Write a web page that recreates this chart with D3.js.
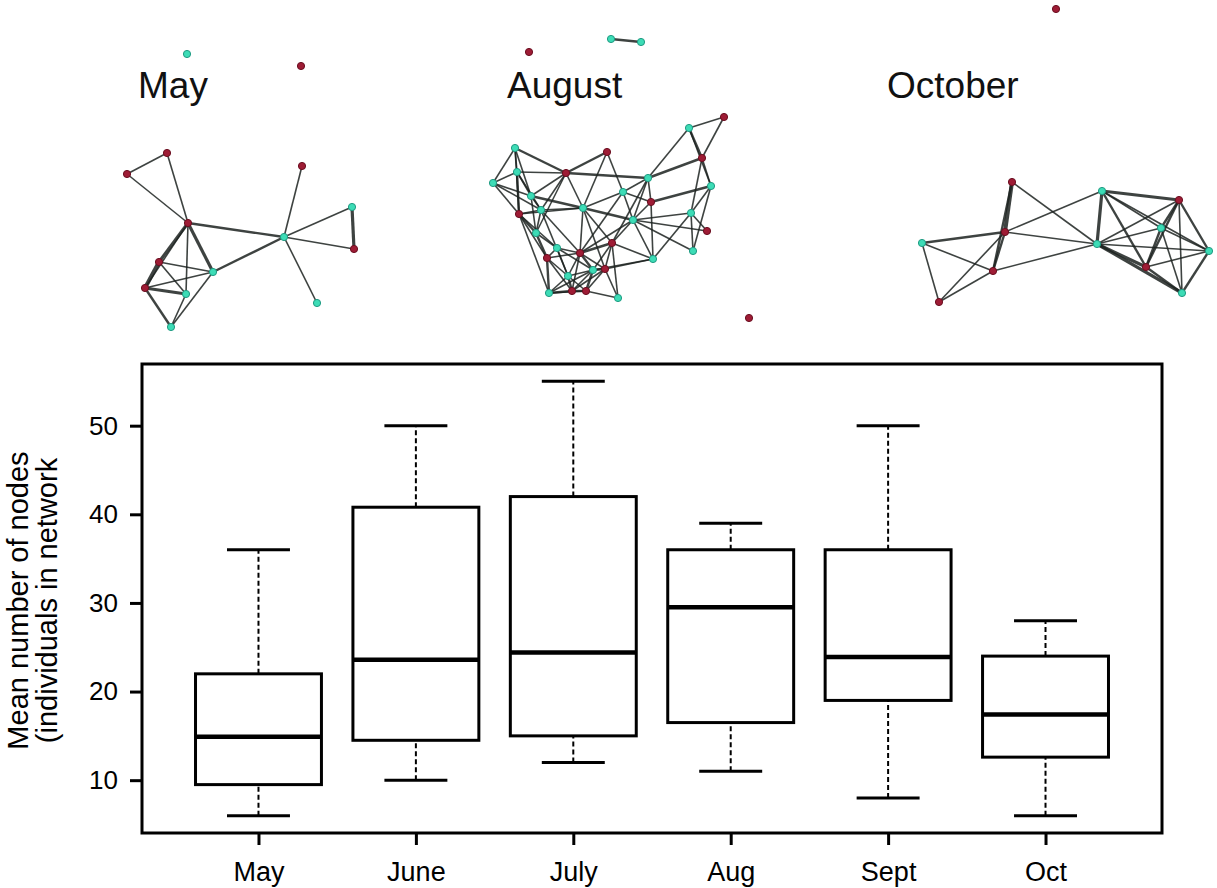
<!DOCTYPE html>
<html>
<head>
<meta charset="utf-8">
<script src="https://cdn.jsdelivr.net/npm/d3@7"></script>
<style>
  body { margin: 0; background: #fff; }
  svg { display: block; font-family: "Liberation Sans", Arial, sans-serif; }
</style>
</head>
<body>
<svg id="chart"></svg>
<script>
// --- Data: box plot ---
const months = ["May", "June", "July", "Aug", "Sept", "Oct"];
const whiskerLow  = [6, 10, 12, 11, 8, 6];
const q1          = [9.5, 14.5, 15, 16.5, 19, 12.6];
const medians     = [14.9, 23.6, 24.4, 29.5, 23.9, 17.4];
const q3          = [22, 40.8, 42, 36, 36, 24];
const whiskerHigh = [36, 50, 55, 39, 50, 28];
const yTicks = [10, 20, 30, 40, 50];
const yTitle = ["Mean number of nodes", "(individuals in network"];

// --- Data: networks (layout units, node = [x, y, group], edge = [from, to, weight], 1-based) ---
const panelTitles = ["May", "August", "October"];

const mayNodes = [
  [87, 24, "c"], [201, 36, "r"], [67, 123, "r"], [27, 144, "r"], [202, 136, "r"],
  [88, 193, "r"], [184, 207, "c"], [252, 177, "c"], [254, 219, "r"], [59, 232, "r"],
  [113, 242, "c"], [45, 258, "r"], [86, 264, "c"], [217, 273, "c"], [71, 297, "c"]
];
const mayEdges = [
  [3, 4, 1], [3, 6, 1], [4, 6, 1], [6, 7, 1.5], [6, 10, 2], [6, 11, 2], [6, 13, 1],
  [6, 12, 1], [7, 5, 1], [7, 8, 1], [7, 9, 1], [8, 9, 2], [7, 14, 1], [7, 11, 1.5],
  [10, 12, 2.5], [10, 11, 1], [10, 13, 1], [12, 11, 1], [12, 13, 2], [12, 15, 1.5],
  [11, 15, 1], [13, 15, 1]
];

const augNodes = [
  [254, 97, "r"], [219, 108, "c"], [232, 138, "r"], [137, 132, "r"], [45, 128, "c"],
  [47, 152, "c"], [23, 163, "c"], [96, 153, "r"], [178, 158, "c"], [241, 166, "c"],
  [153, 172, "c"], [181, 182, "r"], [61, 176, "c"], [71, 190, "c"], [113, 188, "c"],
  [49, 194, "r"], [163, 200, "c"], [221, 193, "c"], [237, 211, "r"], [66, 213, "c"],
  [142, 223, "r"], [223, 231, "c"], [87, 228, "c"], [110, 233, "r"], [77, 238, "r"],
  [183, 239, "c"], [135, 249, "r"], [123, 250, "c"], [98, 256, "c"], [79, 273, "c"],
  [102, 271, "r"], [116, 271, "r"], [148, 278, "c"],
  [141, 19, "c"], [171, 22, "c"], [59, 32, "r"], [279, 298, "r"]
];
const augEdges = [
  [1, 2, 1], [1, 3, 1], [2, 3, 1.5], [2, 9, 1], [2, 10, 1], [3, 10, 1], [3, 18, 1],
  [4, 8, 1.5], [4, 11, 1], [4, 15, 1],
  [5, 6, 1], [5, 7, 1], [5, 8, 1.5], [5, 13, 1], [5, 16, 1],
  [6, 7, 1], [6, 8, 1], [6, 13, 1], [6, 14, 1], [6, 16, 1.5],
  [7, 13, 1], [7, 16, 1], [7, 14, 1],
  [8, 13, 1], [8, 15, 1], [8, 9, 1.5], [8, 14, 1], [8, 20, 1],
  [9, 11, 1], [9, 12, 1], [9, 17, 1], [9, 21, 1], [9, 3, 1.5],
  [10, 18, 1], [10, 12, 1.5], [10, 22, 1],
  [11, 15, 1], [11, 17, 1], [11, 12, 1], [11, 24, 1],
  [12, 17, 1], [12, 26, 1],
  [13, 14, 1], [13, 15, 1.5], [13, 20, 1],
  [14, 15, 1], [14, 16, 1], [14, 20, 1], [14, 24, 1], [14, 29, 1],
  [15, 17, 1.5], [15, 21, 1], [15, 24, 1], [15, 27, 1], [15, 16, 1],
  [16, 20, 1.5], [16, 23, 1], [16, 25, 1], [16, 30, 1],
  [17, 18, 1], [17, 19, 1], [17, 21, 1], [17, 22, 1], [17, 26, 1], [17, 24, 1],
  [18, 19, 1], [18, 22, 1], [18, 26, 1],
  [20, 23, 1], [20, 25, 1.5],
  [21, 24, 1.5], [21, 27, 1], [21, 28, 1], [21, 33, 1], [21, 26, 1],
  [23, 24, 1], [23, 25, 1], [23, 29, 1], [23, 28, 1],
  [24, 25, 1], [24, 28, 1.5], [24, 29, 1], [24, 31, 1], [24, 27, 1],
  [25, 30, 1.5], [25, 29, 1], [25, 31, 1],
  [26, 28, 1], [26, 27, 1],
  [27, 28, 1.5], [27, 33, 1], [27, 32, 1], [27, 31, 1],
  [28, 29, 1], [28, 31, 1], [28, 32, 1.5], [28, 30, 1],
  [29, 30, 1], [29, 31, 1.5], [29, 32, 1],
  [30, 31, 1.5], [30, 32, 1], [31, 32, 1.5], [32, 33, 1],
  [34, 35, 1.5]
];

const octNodes = [
  [156, 9, "r"], [112, 182, "r"], [202, 191, "c"], [279, 200, "r"], [261, 228, "c"],
  [105, 232, "r"], [22, 243, "c"], [197, 244, "c"], [309, 251, "c"], [93, 271, "r"],
  [246, 267, "r"], [39, 302, "r"], [282, 293, "c"]
];
const octEdges = [
  [2, 6, 2.5], [2, 10, 1.5], [2, 8, 1], [6, 7, 1.5], [6, 3, 1], [6, 8, 1], [6, 12, 1],
  [7, 10, 1], [7, 12, 1], [10, 12, 1], [10, 8, 1], [6, 10, 1.5], [3, 8, 2], [3, 4, 2],
  [3, 5, 1], [3, 11, 1.5], [3, 9, 1], [8, 4, 1], [8, 5, 1], [8, 11, 2], [8, 9, 1],
  [8, 13, 2], [4, 5, 1.5], [4, 11, 1.5], [4, 9, 1.5], [4, 13, 1], [5, 11, 1.5],
  [5, 13, 1], [5, 9, 1], [11, 9, 1], [11, 13, 1.5], [9, 13, 1.5]
];

// --- Layout ---
const W = 1217, H = 888;
const svg = d3.select("#chart").attr("width", W).attr("height", H);
svg.append("rect").attr("width", W).attr("height", H).attr("fill", "#fff");

const frame = { left: 142, right: 1162, top: 364, bottom: 833 };

// --- Networks ---
const panels = [
  { title: panelTitles[0], nodes: mayNodes, edges: mayEdges, ox: 100, oy: 30, tx: 38 },
  { title: panelTitles[1], nodes: augNodes, edges: augEdges, ox: 470, oy: 20, tx: 37 },
  { title: panelTitles[2], nodes: octNodes, edges: octEdges, ox: 900, oy: 0, tx: -13 }
];

const nodeFill = d3.scaleOrdinal().domain(["c", "r"]).range(["#3ddcb6", "#9e1c35"]);
const nodeStroke = d3.scaleOrdinal().domain(["c", "r"]).range(["#1f9a82", "#6a0e20"]);

panels.forEach(p => {
  const px = d3.scaleLinear().domain([0, 300]).range([p.ox, p.ox + 300]);
  const py = d3.scaleLinear().domain([0, 300]).range([p.oy, p.oy + 300]);
  const gp = svg.append("g").attr("class", "network");

  gp.append("text")
    .attr("x", px(p.tx))
    .attr("y", 98)
    .attr("font-size", 37)
    .attr("fill", "#111")
    .text(p.title);

  gp.selectAll(".edge")
    .data(p.edges)
    .enter()
    .append("line")
    .attr("class", "edge")
    .attr("x1", d => px(p.nodes[d[0] - 1][0]))
    .attr("y1", d => py(p.nodes[d[0] - 1][1]))
    .attr("x2", d => px(p.nodes[d[1] - 1][0]))
    .attr("y2", d => py(p.nodes[d[1] - 1][1]))
    .attr("stroke", "#1c2220")
    .attr("stroke-opacity", 0.85)
    .attr("stroke-width", d => d[2] * 1.6);

  gp.selectAll(".node")
    .data(p.nodes)
    .enter()
    .append("circle")
    .attr("class", "node")
    .attr("cx", d => px(d[0]))
    .attr("cy", d => py(d[1]))
    .attr("r", 3.6)
    .attr("fill", d => nodeFill(d[2]))
    .attr("stroke", d => nodeStroke(d[2]))
    .attr("stroke-width", 1);
});

// --- Box plot ---
const x = d3.scaleLinear().domain([0.26, 6.74]).range([frame.left, frame.right]);
const y = d3.scaleLinear().domain([4.04, 56.96]).range([frame.bottom, frame.top]);
const boxes = months.map((m, i) => ({
  m, pos: i + 1, lo: whiskerLow[i], q1: q1[i], med: medians[i], q3: q3[i], hi: whiskerHigh[i]
}));

const g = svg.append("g").attr("class", "boxplot");

// whiskers (dashed)
g.selectAll(".wlow").data(boxes).enter().append("line")
  .attr("x1", d => x(d.pos)).attr("x2", d => x(d.pos))
  .attr("y1", d => y(d.lo)).attr("y2", d => y(d.q1))
  .attr("stroke", "#000").attr("stroke-width", 2).attr("stroke-dasharray", "5,3");
g.selectAll(".whigh").data(boxes).enter().append("line")
  .attr("x1", d => x(d.pos)).attr("x2", d => x(d.pos))
  .attr("y1", d => y(d.q3)).attr("y2", d => y(d.hi))
  .attr("stroke", "#000").attr("stroke-width", 2).attr("stroke-dasharray", "5,3");

// staples
["lo", "hi"].forEach(k => {
  g.selectAll(".cap-" + k).data(boxes).enter().append("line")
    .attr("x1", d => x(d.pos - 0.2)).attr("x2", d => x(d.pos + 0.2))
    .attr("y1", d => y(d[k])).attr("y2", d => y(d[k]))
    .attr("stroke", "#000").attr("stroke-width", 3);
});

// boxes
g.selectAll(".box").data(boxes).enter().append("rect")
  .attr("x", d => x(d.pos - 0.4))
  .attr("width", d => x(d.pos + 0.4) - x(d.pos - 0.4))
  .attr("y", d => y(d.q3))
  .attr("height", d => y(d.q1) - y(d.q3))
  .attr("fill", "#fff").attr("stroke", "#000").attr("stroke-width", 3);

// medians
g.selectAll(".median").data(boxes).enter().append("line")
  .attr("x1", d => x(d.pos - 0.4)).attr("x2", d => x(d.pos + 0.4))
  .attr("y1", d => y(d.med)).attr("y2", d => y(d.med))
  .attr("stroke", "#000").attr("stroke-width", 4.5);

// frame
g.append("rect")
  .attr("x", frame.left).attr("y", frame.top)
  .attr("width", frame.right - frame.left).attr("height", frame.bottom - frame.top)
  .attr("fill", "none").attr("stroke", "#000").attr("stroke-width", 3);

// axes
const yAxis = g.append("g")
  .attr("transform", `translate(${frame.left},0)`)
  .call(d3.axisLeft(y).tickValues(yTicks).tickSize(12).tickPadding(12));
const xAxis = g.append("g")
  .attr("transform", `translate(0,${frame.bottom})`)
  .call(d3.axisBottom(x).tickValues(boxes.map(d => d.pos))
    .tickFormat(v => months[v - 1]).tickSize(12).tickPadding(17));

[yAxis, xAxis].forEach(a => {
  a.select(".domain").remove();
  a.selectAll(".tick line").attr("stroke", "#000").attr("stroke-width", 3);
  a.selectAll(".tick text").attr("fill", "#000")
    .attr("font-family", "'Liberation Sans', Arial, sans-serif");
});
yAxis.selectAll(".tick text").attr("font-size", 26);
xAxis.selectAll(".tick text").attr("font-size", 27);

// y title
const yMid = (frame.top + frame.bottom) / 2 + 2;
g.selectAll(".ytitle").data(yTitle).enter().append("text")
  .attr("transform", (d, i) => `translate(${28 + i * 29},${yMid}) rotate(-90)`)
  .attr("text-anchor", "middle")
  .attr("font-size", 29)
  .attr("fill", "#000")
  .text(d => d);
</script>
</body>
</html>
